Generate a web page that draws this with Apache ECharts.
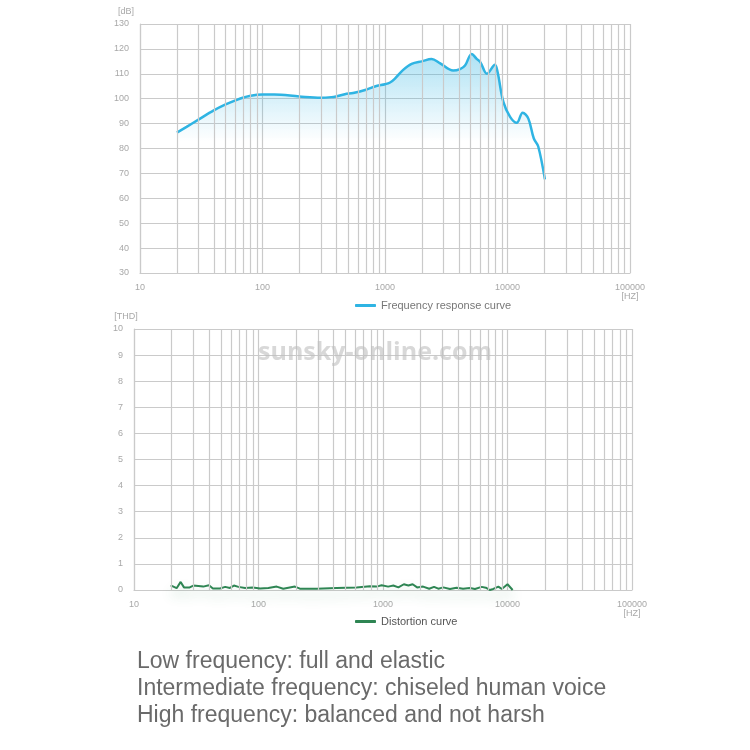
<!DOCTYPE html>
<html>
<head>
<meta charset="utf-8">
<script src="https://cdn.jsdelivr.net/npm/echarts@6/dist/echarts.min.js"></script>
<style>
  html, body { margin: 0; padding: 0; background: #fff; }
  #chart { width: 750px; height: 750px; }
</style>
</head>
<body>
<div id="chart"></div>
<script>
// frequency response (top chart)
const responseHz = [20, 24, 30, 40, 50, 60, 70, 80, 90, 100, 125, 200, 300, 380, 400, 470, 550, 700, 850, 1000,
    1100, 1200, 1400, 1650, 2000, 2400, 2800, 3600, 4100, 4500, 5100, 5600, 6000, 6800, 7900, 8300, 9250,
    10500, 11900, 13300, 14800, 16400, 17800, 20200];
const responseDb = [86.4, 88.7, 91.6, 95.3, 97.7, 99.3, 100.5, 101.2, 101.6, 101.7, 101.7, 100.9, 100.4, 100.7, 100.9, 101.8, 102.3, 103.6, 105.1, 105.8,
    106.5, 108, 111.5, 114, 115, 115.9, 114.3, 111.3, 111.9, 113.3, 118, 116, 114.7, 110, 113.6, 110.7, 98.7,
    92.7, 90.3, 94.4, 92, 84, 80.9, 67.6];

// distortion (bottom chart)
const distortionHz = [19.7, 22, 23.7, 25.2, 28, 30, 36, 40, 43, 49, 54, 59, 63.5, 69, 78, 90, 103, 120, 140, 158,
    196, 215, 293, 424, 613, 784, 889, 975, 1100, 1210, 1330, 1470, 1600, 1730, 1880, 2100, 2350, 2570, 2780,
    3050, 3450, 3900, 4400, 4980, 5480, 6200, 6700, 7200, 7700, 8450, 9000, 10000, 11000];
const distortionThd = [0.18, 0.07, 0.31, 0.1, 0.1, 0.17, 0.13, 0.18, 0.06, 0.06, 0.12, 0.08, 0.17, 0.12, 0.08, 0.1, 0.06, 0.08, 0.13, 0.05,
    0.13, 0.05, 0.05, 0.08, 0.1, 0.14, 0.13, 0.18, 0.13, 0.17, 0.1, 0.22, 0.17, 0.22, 0.1, 0.13, 0.05, 0.12, 0.05,
    0.1, 0.04, 0.09, 0.05, 0.08, 0.04, 0.12, 0.09, 0, 0.04, 0.13, 0.04, 0.22, 0];

// minor vertical grid lines (2..9 per decade)
const minorHz = [20, 30, 40, 50, 60, 70, 80, 90, 200, 300, 400, 500, 600, 700, 800, 900,
    2000, 3000, 4000, 5000, 6000, 7000, 8000, 9000, 20000, 30000, 40000, 50000, 60000, 70000, 80000, 90000];

const dbTicks = { min: 30, max: 130, interval: 10 };
const thdTicks = { min: 0, max: 10, interval: 1 };

const notes = [
    "Low frequency: full and elastic",
    "Intermediate frequency: chiseled human voice",
    "High frequency: balanced and not harsh"
];

const gridColor = "#cacaca";
const labelColor = "#a8a8a8";
const font = "Liberation Sans";

const chart = echarts.init(document.getElementById("chart"));

const xAxisBase = (gridIndex) => ({
    type: "log",
    logBase: 10,
    min: 10,
    max: 100000,
    gridIndex: gridIndex,
    axisTick: { show: false },
    axisLine: { show: true, lineStyle: { color: gridColor, width: 1.2 } },
    splitLine: { show: true, lineStyle: { color: gridColor, width: 1.2 } },
    axisLabel: {
        color: labelColor,
        fontSize: 9,
        fontFamily: font,
        margin: 10,
        formatter: (v) => (v >= 100000 ? "100000\n[HZ]" : String(Math.round(v))),
    },
});

const yAxisBase = (gridIndex, ticks) => ({
    type: "value",
    gridIndex: gridIndex,
    min: ticks.min,
    max: ticks.max,
    interval: ticks.interval,
    axisTick: { show: false },
    axisLine: { show: true, lineStyle: { color: gridColor, width: 1.2 } },
    splitLine: { show: true, lineStyle: { color: gridColor, width: 1.2 } },
    axisLabel: { color: labelColor, fontSize: 9, fontFamily: font, margin: 11 },
});

const minorLines = {
    silent: true,
    symbol: ["none", "none"],
    label: { show: false },
    animation: false,
    lineStyle: { color: gridColor, width: 1.2, type: "solid" },
    emphasis: { disabled: true },
    data: minorHz.map((f) => ({ xAxis: f })),
};

const caption = (text, x, y, style) => ({
    type: "text",
    x: x,
    y: y,
    silent: true,
    style: Object.assign({ text: text, verticalAlign: "middle" }, style),
});

let options = {
    animation: false,
    grid: [
        { left: 140, right: 120, top: 24, bottom: 477 },
        { left: 134, right: 118, top: 329, bottom: 160 },
    ],
    legend: [
        {
            left: 350,
            top: 295,
            icon: "roundRect",
            itemWidth: 21,
            itemHeight: 3,
            textStyle: { color: "#777", fontSize: 11, fontFamily: font },
            data: ["Frequency response curve"],
        },
        {
            left: 350,
            top: 611,
            icon: "roundRect",
            itemWidth: 21,
            itemHeight: 3,
            textStyle: { color: "#555", fontSize: 11, fontFamily: font },
            data: ["Distortion curve"],
        },
    ],
    xAxis: [xAxisBase(0), xAxisBase(1)],
    yAxis: [yAxisBase(0, dbTicks), yAxisBase(1, thdTicks)],
    series: [
        {
            name: "Frequency response curve",
            type: "line",
            xAxisIndex: 0,
            yAxisIndex: 0,
            smooth: 0.35,
            symbol: "none",
            data: responseHz.map((f, i) => [f, responseDb[i]]),
            lineStyle: { color: "#2fb4e3", width: 2.5 },
            itemStyle: { color: "#2fb4e3" },
            areaStyle: {
                color: new echarts.graphic.LinearGradient(0, 0, 0, 1, [
                    { offset: 0, color: "rgba(47, 180, 227, 0.55)" },
                    { offset: 0.4, color: "rgba(47, 180, 227, 0)" },
                    { offset: 1, color: "rgba(47, 180, 227, 0)" },
                ]),
            },
            markLine: minorLines,
            z: 3,
        },
        {
            name: "Distortion curve",
            type: "line",
            xAxisIndex: 1,
            yAxisIndex: 1,
            symbol: "none",
            clip: false,
            data: distortionHz.map((f, i) => [f, distortionThd[i]]),
            lineStyle: {
                color: "#2e8553",
                width: 2,
                shadowColor: "rgba(46, 133, 83, 0.3)",
                shadowBlur: 12,
                shadowOffsetY: 7,
            },
            itemStyle: { color: "#2e8553" },
            markLine: minorLines,
            z: 3,
        },
    ],
    graphic: [
        caption("[dB]", 126, 12, { align: "center", font: "9px 'Liberation Sans'", fill: labelColor }),
        caption("[THD]", 126, 317, { align: "center", font: "9px 'Liberation Sans'", fill: labelColor }),
        Object.assign(
            caption("sunsky-online.com", 375, 353, {
                align: "center",
                font: "bold 25px 'Open Sans'",
                fill: "rgba(190, 190, 190, 0.6)",
            }),
            { z: 10 }
        ),
        ...notes.map((t, i) => caption(t, 137, 662 + i * 27, { font: "23px 'Liberation Sans'", fill: "#6a6a6a" })),
    ],
};

chart.setOption(options);
</script>
</body>
</html>
